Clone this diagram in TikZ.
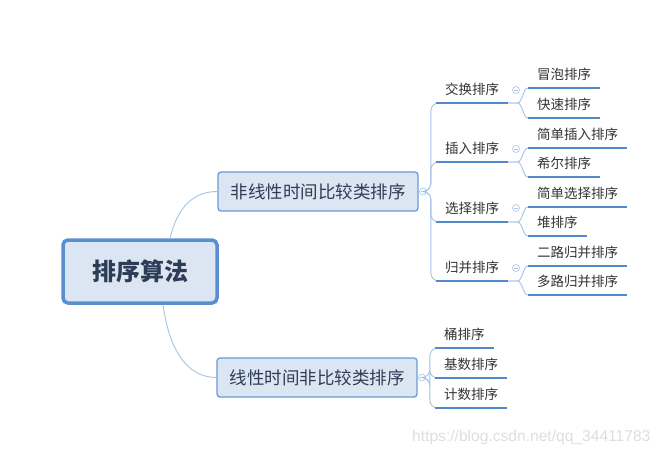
\documentclass[tikz,border=0pt]{standalone}
\usepackage{fontspec}
\newfontfamily\cjk{Noto Sans CJK SC}
\newfontfamily\wm{Liberation Sans}
\definecolor{boxfill}{HTML}{DCE6F2}
\definecolor{boxdraw}{HTML}{6A9BD8}
\definecolor{rootdraw}{HTML}{5A8ED3}
\definecolor{uline}{HTML}{5289CC}
\definecolor{conn}{HTML}{A6C3E8}
\definecolor{txt}{HTML}{333333}
\definecolor{boxtxt}{HTML}{2E3D57}
\tikzset{
  rootbox/.style={draw=rootdraw, fill=boxfill, line width=3.5pt, rounded corners=5pt,
    minimum width=154pt, minimum height=63pt, font=\cjk\fontsize{24}{27}\selectfont\bfseries, text=boxtxt},
  branchbox/.style={draw=boxdraw, fill=boxfill, line width=1.3pt, rounded corners=3pt,
    minimum width=200pt, minimum height=39pt, font=\cjk\fontsize{17.5}{20}\selectfont, text=boxtxt},
  topic/.style={anchor=south west, inner xsep=9pt, inner ysep=0pt, minimum height=26pt,
    font=\cjk\fontsize{13.5}{16}\selectfont, text=txt},
  ul/.style={draw=uline, line width=2.2pt},
  cn/.style={draw=conn, line width=0.9pt},
  cnr/.style={cn, rounded corners=8pt},
  toggle/.style={circle, draw=conn, line width=0.6pt, minimum size=7pt, inner sep=0pt, fill=white,
    path picture={\draw[conn, line width=0.6pt] ([xshift=-2pt]path picture bounding box.center) -- ([xshift=2pt]path picture bounding box.center);}}
}
\begin{document}
\begin{tikzpicture}[x=1pt,y=-1pt]
\useasboundingbox (0,0) rectangle (664,455);
\fill[white] (0,0) rectangle (664,455);

% root and branches
\node[rootbox] (root) at (140,271.5) {排序算法};
\node[branchbox] (b1) at (318,191.5) {非线性时间比较类排序};
\node[branchbox] (b2) at (317,377.5) {线性时间非比较类排序};

\draw[cn] ([xshift=30pt]root.north) .. controls (178,205) and (195,191.5) .. (b1.west);
\draw[cn] ([xshift=23pt]root.south) .. controls (170,355) and (190,377.5) .. (b2.west);

% toggles of branches
\node[toggle] (t1) at (423,191.5) {};
\node[toggle] (t2) at (422,377.5) {};
\draw[cn] (b1.east) -- (t1.west);
\draw[cn] (b2.east) -- (t2.west);

% level 2 under branch 1
\node[topic] (s1) at (436,103) {交换排序};
\node[topic] (s2) at (436,162) {插入排序};
\node[topic] (s3) at (436,222) {选择排序};
\node[topic] (s4) at (436,281) {归并排序};
\foreach \s in {s1,s2,s3,s4}{
  \draw[cnr] (t1.east) -- ++(4,0) |- (\s.south west);
  \draw[ul] (\s.south west) -- (\s.south east);
}

% toggles of level 2
\node[toggle] (u1) at (516,90) {};
\node[toggle] (u2) at (516,149) {};
\node[toggle] (u3) at (516,208) {};
\node[toggle] (u4) at (516,268) {};

% level 3
\node[topic] (l11) at (528,88) {冒泡排序};
\node[topic] (l12) at (528,118) {快速排序};
\node[topic] (l21) at (528,148) {简单插入排序};
\node[topic] (l22) at (528,177) {希尔排序};
\node[topic] (l31) at (528,207) {简单选择排序};
\node[topic] (l32) at (528,236) {堆排序};
\node[topic] (l41) at (528,266) {二路归并排序};
\node[topic] (l42) at (528,295) {多路归并排序};

\foreach \p/\a/\b in {s1/l11/l12, s2/l21/l22, s3/l31/l32, s4/l41/l42}{
  \draw[cn] (\p.south east) -- ++(9,0) .. controls +(5,0) and +(-5,0) .. (\a.south west);
  \draw[cn] (\p.south east) -- ++(9,0) .. controls +(5,0) and +(-5,0) .. (\b.south west);
  \draw[ul] (\a.south west) -- (\a.south east);
  \draw[ul] (\b.south west) -- (\b.south east);
}

% level 2 under branch 2
\node[topic] (r1) at (435,348) {桶排序};
\node[topic] (r2) at (435,378) {基数排序};
\node[topic] (r3) at (435,408) {计数排序};
\foreach \s in {r1,r2,r3}{
  \draw[cnr] (t2.east) -- ++(4,0) |- (\s.south west);
  \draw[ul] (\s.south west) -- (\s.south east);
}

% watermark
\node[font=\wm\fontsize{15.6}{17}\selectfont, text=black!13, anchor=west, inner xsep=0pt] (wm) at (412,437) {https://blog.csdn.net/qq\_34411783};
\end{tikzpicture}
\end{document}
